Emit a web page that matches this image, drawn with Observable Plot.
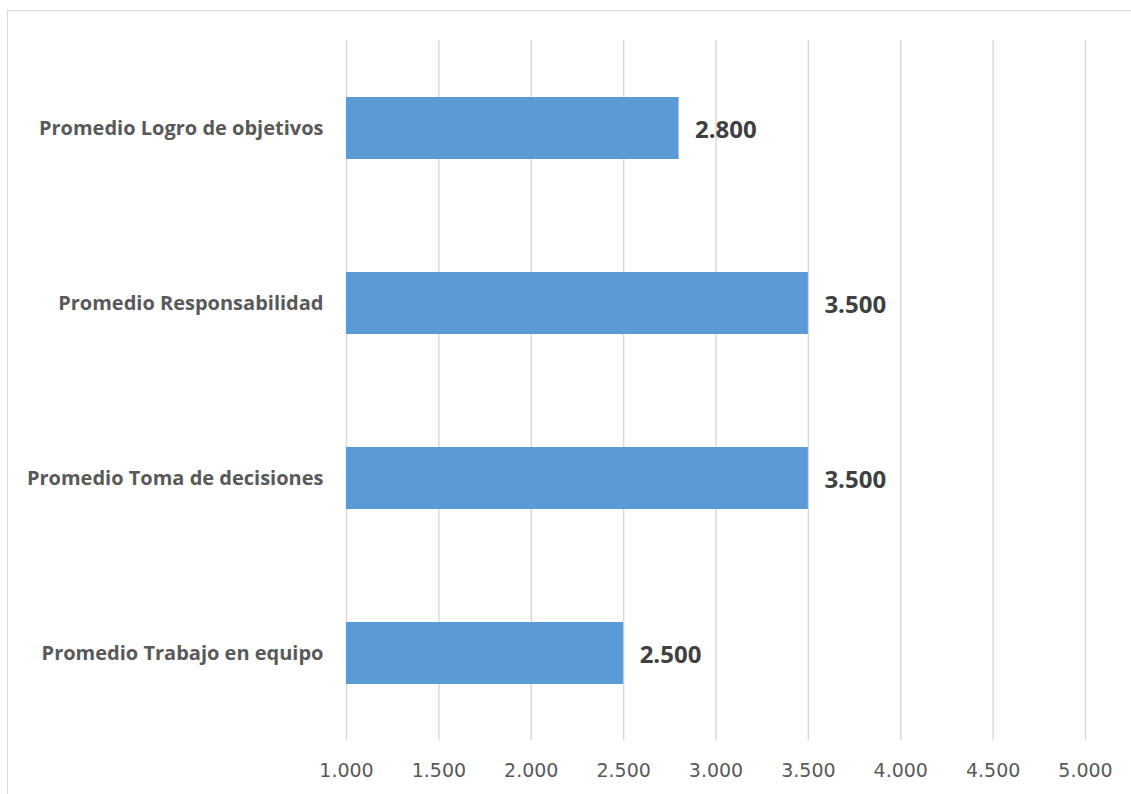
<!DOCTYPE html>
<html>
<head>
<meta charset="utf-8">
<script src="https://cdn.jsdelivr.net/npm/d3@7"></script>
<script src="https://cdn.jsdelivr.net/npm/@observablehq/plot@0.6"></script>
<style>
  html, body { margin: 0; padding: 0; background: #fff; overflow: hidden; }
  #wrap { position: relative; width: 1131px; height: 794px; }
  #frame { position: absolute; left: 7px; top: 10px; width: 1200px; height: 900px; border: 1.5px solid #d9d9d9; box-sizing: border-box; }
  #chart { position: absolute; left: 0; top: 0; }
</style>
</head>
<body>
<div id="wrap"><div id="frame"></div><div id="chart"></div></div>
<script>
const categories = [
  "Promedio Logro de objetivos",
  "Promedio Responsabilidad",
  "Promedio Toma de decisiones",
  "Promedio Trabajo en equipo"
];
const values = [2.8, 3.5, 3.5, 2.5];
const tickValues = [1.0, 1.5, 2.0, 2.5, 3.0, 3.5, 4.0, 4.5, 5.0];

const data = categories.map((c, i) => ({category: c, value: values[i]}));
const fmt = v => v.toFixed(3);

const chart = Plot.plot({
  width: 1131,
  height: 794,
  marginLeft: 346,
  marginRight: 46,
  marginTop: 40,
  marginBottom: 54,
  style: {background: "transparent", overflow: "visible"},
  x: {domain: [1, 5]},
  y: {domain: categories, paddingInner: 0.646, paddingOuter: 0.323},
  marks: [
    Plot.ruleX(tickValues, {stroke: "#d9d9d9", strokeWidth: 1.5}),
    Plot.barX(data, {x1: 1, x2: "value", y: "category", fill: "#5B9BD5"}),
    Plot.text(data, {
      x: "value", y: "category", text: d => fmt(d.value),
      textAnchor: "start", dx: 16, dy: 2, fontSize: 24, fontWeight: "bold",
      fill: "#404040", fontFamily: "Open Sans"
    }),
    Plot.axisX({
      ticks: tickValues, tickFormat: fmt, tickSize: 0, tickPadding: 23,
      fontSize: 19, fill: "#595959", fontFamily: "DejaVu Sans", label: null
    }),
    Plot.axisY({
      tickSize: 0, tickPadding: 23, fontSize: 20, fontWeight: "bold",
      fill: "#595959", fontFamily: "Open Sans", label: null
    })
  ]
});
document.getElementById("chart").appendChild(chart);
</script>
</body>
</html>
